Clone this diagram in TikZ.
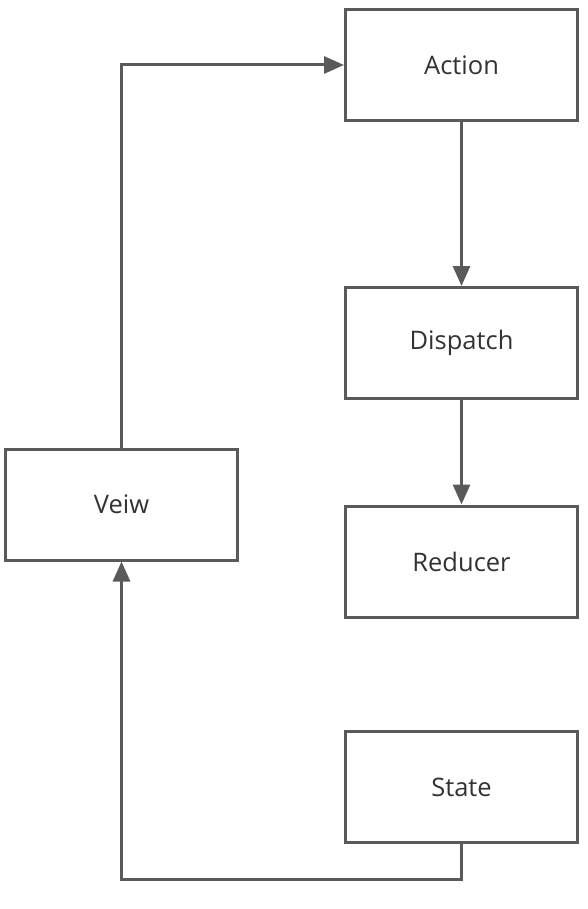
\documentclass[tikz,border=0pt]{standalone}
\usepackage{fontspec}
\setmainfont{Open Sans}
\usetikzlibrary{arrows.meta}
\definecolor{linegray}{HTML}{5A5A5A}
\definecolor{textgray}{HTML}{333333}

\begin{document}
\begin{tikzpicture}[x=1pt,y=-1pt,
  box/.style={draw=linegray,line width=3pt,minimum width=232pt,minimum height=111pt,
    inner sep=0pt,text=textgray,font=\fontsize{25.5}{30}\selectfont},
  flow/.style={draw=linegray,line width=3pt,-{Triangle[length=20pt,width=17pt]}}]
\useasboundingbox (0,0) rectangle (588,909);

% boxes
\node[box] (action) at (461.5,65) {Action};
\node[box] (dispatch) at (461.5,343) {Dispatch};
\node[box] (reducer) at (461.5,561.5) {Reducer};
\node[box] (state) at (461.5,787) {State};
\node[box] (veiw) at (121.5,504.5) {Veiw};

% flow
\draw[flow] (action.south) -- (dispatch.north);
\draw[flow] (dispatch.south) -- (reducer.north);
\draw[flow] (state.south) -- ++(0,35.5) -| (veiw.south);
\draw[flow] (veiw.north) |- (action.west);

\end{tikzpicture}
\end{document}
